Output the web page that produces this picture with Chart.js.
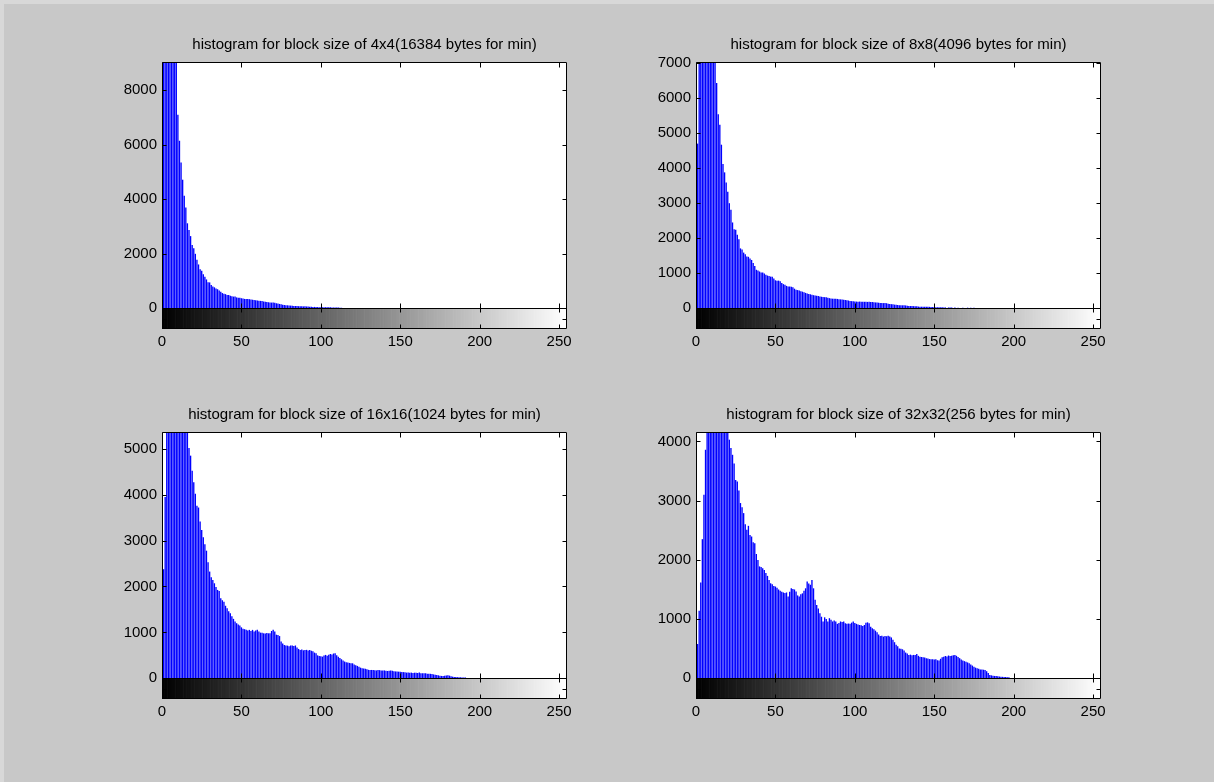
<!DOCTYPE html>
<html>
<head>
<meta charset="utf-8">
<script src="https://cdn.jsdelivr.net/npm/chart.js@4.4.1/dist/chart.umd.min.js"></script>
<style>
  html, body { margin: 0; padding: 0; background: #c8c8c8; }
  body { width: 1214px; height: 782px; position: relative; overflow: hidden; }
  .edge { position: absolute; left: 0; top: 0; width: 1214px; height: 782px; box-sizing: border-box;
          border-left: 4px solid #d8d8d8; border-top: 4px solid #d8d8d8; }
  .panel { position: absolute; width: 480px; height: 330px; }
</style>
</head>
<body>
<div class="edge"></div>
<div class="panel" style="left:100px; top:30px;"><canvas id="h4" width="480" height="330"></canvas></div>
<div class="panel" style="left:634px; top:30px;"><canvas id="h8" width="480" height="330"></canvas></div>
<div class="panel" style="left:100px; top:400px;"><canvas id="h16" width="480" height="330"></canvas></div>
<div class="panel" style="left:634px; top:400px;"><canvas id="h32" width="480" height="330"></canvas></div>
<script>
// pixel counts per gray level (0..n), bins past the end are empty
const bins4x4 = [
  9600, 16800, 15400, 14200, 13100, 12200, 11400, 10600, 9900, 9300,
  7100, 6150, 5350, 4720, 4130, 3700, 3120, 2870, 2650, 2320,
  2200, 2000, 1780, 1610, 1430, 1380, 1250, 1160, 1060, 960,
  950, 860, 800, 770, 730, 700, 650, 610, 560, 530,
  520, 490, 490, 465, 440, 430, 430, 400, 390, 385,
  370, 360, 345, 340, 340, 335, 325, 315, 305, 300,
  285, 280, 272, 265, 250, 245, 230, 222, 215, 210,
  210, 200, 185, 180, 160, 150, 135, 122, 115, 110,
  105, 100, 92, 86, 85, 82, 78, 75, 74, 70,
  75, 68, 62, 60, 55, 50, 52, 48, 45, 42,
  40, 40, 38, 40, 36, 35, 38, 33, 30, 32,
  28, 26, 25, 20
];

const bins8x8 = [
  5760, 4700, 7600, 8400, 8900, 9200, 9300, 9100, 8800, 8400,
  7900, 7500, 7200, 6430, 5540, 5240, 4670, 4120, 3880, 3590,
  3330, 3000, 2810, 2450, 2260, 2240, 2100, 1970, 1710, 1680,
  1590, 1540, 1480, 1470, 1420, 1380, 1290, 1210, 1100, 1080,
  1050, 1020, 1020, 990, 960, 935, 920, 905, 900, 850,
  800, 790, 790, 770, 720, 690, 670, 640, 625, 620,
  615, 600, 560, 530, 520, 510, 490, 475, 460, 440,
  425, 410, 400, 385, 375, 365, 360, 350, 340, 330,
  325, 318, 315, 300, 290, 282, 275, 272, 270, 268,
  262, 255, 250, 245, 240, 230, 222, 212, 205, 198,
  195, 192, 190, 192, 188, 190, 186, 185, 183, 185,
  180, 178, 170, 168, 165, 160, 152, 150, 148, 150,
  145, 128, 122, 118, 115, 105, 100, 95, 90, 88,
  85, 85, 82, 72, 68, 65, 64, 62, 60, 58,
  50, 48, 46, 48, 45, 44, 45, 42, 38, 35,
  34, 32, 30, 32, 28, 27, 25, 26, 0, 24,
  22, 25, 0, 20, 0, 18, 0, 0, 15, 0,
  0, 18, 0, 16, 0, 15
];

const bins16x16 = [
  1475, 2376, 3950, 5800, 6900, 7800, 8500, 8900, 9100, 9000,
  8700, 8200, 7600, 7000, 6400, 5900, 5500, 5015, 4850, 4520,
  4270, 4020, 3760, 3720, 3415, 3230, 3070, 2920, 2780, 2530,
  2325, 2200, 2140, 2070, 1990, 1925, 1900, 1745, 1700, 1665,
  1580, 1525, 1460, 1415, 1350, 1295, 1240, 1200, 1170, 1150,
  1110, 1080, 1070, 1060, 1040, 1055, 1030, 1055, 1020, 1040,
  1055, 1020, 995, 990, 980, 975, 985, 980, 980, 1030,
  1060, 1020, 950, 945, 920, 800, 760, 727, 715, 712,
  700, 715, 712, 705, 715, 670, 640, 618, 625, 610,
  618, 620, 605, 618, 600, 590, 560, 545, 500, 487,
  480, 472, 495, 510, 490, 515, 530, 520, 540, 545,
  500, 472, 440, 415, 390, 365, 350, 345, 335, 330,
  327, 300, 285, 270, 250, 232, 220, 215, 210, 195,
  185, 180, 182, 180, 175, 172, 180, 178, 170, 168,
  172, 167, 160, 165, 168, 162, 155, 150, 148, 145,
  145, 138, 135, 130, 124, 126, 120, 124, 118, 122,
  120, 115, 124, 112, 110, 108, 110, 102, 100, 98,
  95, 85, 78, 70, 65, 58, 52, 50, 55, 60,
  65, 58, 45, 36, 30, 28, 25, 22, 22, 20,
  20, 18
];

const bins32x32 = [
  380, 580, 1140, 1620, 2350, 3100, 3860, 4600, 5200, 5700,
  6000, 6200, 6300, 6250, 6100, 5900, 5600, 5300, 5000, 4700,
  4400, 4030, 3890, 3775, 3630, 3350, 3325, 3170, 2960, 2890,
  2790, 2600, 2510, 2575, 2420, 2395, 2300, 2280, 2100, 2000,
  1890, 1880, 1860, 1830, 1780, 1730, 1660, 1605, 1590, 1560,
  1550, 1530, 1500, 1480, 1460, 1450, 1440, 1450, 1380, 1460,
  1520, 1510, 1500, 1465, 1400, 1380, 1420, 1435, 1480, 1520,
  1635, 1600, 1580, 1660, 1520, 1325, 1240, 1180, 1100, 1040,
  960, 1030, 1000, 960, 1015, 990, 960, 975, 960, 920,
  935, 960, 950, 960, 930, 920, 925, 920, 940, 960,
  935, 920, 910, 900, 895, 885, 900, 940, 945, 930,
  870, 845, 830, 805, 780, 740, 715, 720, 705, 715,
  710, 720, 705, 690, 650, 610, 565, 540, 505, 500,
  490, 470, 435, 420, 395, 400, 390, 395, 395, 410,
  380, 365, 360, 355, 350, 340, 335, 325, 320, 322,
  318, 320, 305, 300, 330, 355, 365, 377, 370, 385,
  377, 380, 390, 395, 380, 360, 340, 318, 300, 290,
  280, 268, 255, 235, 215, 195, 180, 170, 160, 150,
  148, 145, 140, 120, 90, 56, 50, 45, 40, 40,
  35, 30, 28, 25, 24, 22, 20, 18
];

const titles = [
  'histogram for block size of 4x4(16384 bytes for min)',
  'histogram for block size of 8x8(4096 bytes for min)',
  'histogram for block size of 16x16(1024 bytes for min)',
  'histogram for block size of 32x32(256 bytes for min)'
];
const yLimits = [9040, 7030, 5365, 4160];
const xTicks = [0, 50, 100, 150, 200, 250];
const yTicks4x4 = [0, 2000, 4000, 6000, 8000];
const yTicks8x8 = [0, 1000, 2000, 3000, 4000, 5000, 6000, 7000];
const yTicks16x16 = [0, 1000, 2000, 3000, 4000, 5000];
const yTicks32x32 = [0, 1000, 2000, 3000, 4000];

// gray colormap strip under each histogram
const grayLevels = Array.from({ length: 256 }, (_, i) => i);
const CBAR_RATIO = 0.084;

Chart.defaults.font.family = '"Liberation Sans", Arial, sans-serif';
Chart.defaults.font.size = 15;
Chart.defaults.color = '#000';

// white axes background, then box, baseline and inward tick marks on top
const axesFrame = {
  id: 'axesFrame',
  beforeDatasetsDraw(chart) {
    const { ctx, chartArea: a } = chart;
    ctx.save();
    ctx.fillStyle = '#fff';
    ctx.fillRect(a.left, a.top, a.right - a.left, a.bottom - a.top);
    ctx.restore();
  },
  afterDatasetsDraw(chart) {
    const { ctx, chartArea: a, scales: { x, y } } = chart;
    const px = v => Math.round(v) + 0.5;
    const L = px(a.left), R = px(a.right) - 1, T = px(a.top), B = px(a.bottom) - 1;
    const Y0 = px(y.getPixelForValue(0));
    ctx.save();
    ctx.strokeStyle = '#000';
    ctx.lineWidth = 1;
    ctx.beginPath();
    ctx.rect(L, T, R - L, B - T);
    ctx.moveTo(L, Y0); ctx.lineTo(R, Y0);
    xTicks.forEach(v => {
      const X = px(x.getPixelForValue(v));
      ctx.moveTo(X, T); ctx.lineTo(X, T + 5);
      ctx.moveTo(X, Y0); ctx.lineTo(X, Y0 - 5);
      ctx.moveTo(X, Y0); ctx.lineTo(X, Y0 + 4);
      ctx.moveTo(X, B); ctx.lineTo(X, B - 4);
    });
    y.ticks.forEach(t => {
      const Y = px(y.getPixelForValue(t.value));
      ctx.moveTo(L, Y); ctx.lineTo(L + 4, Y);
      ctx.moveTo(R, Y); ctx.lineTo(R - 4, Y);
    });
    const Ym = px((Y0 + B) / 2);
    ctx.moveTo(L, Ym); ctx.lineTo(L + 4, Ym);
    ctx.moveTo(R, Ym); ctx.lineTo(R - 4, Ym);
    ctx.stroke();
    ctx.restore();
  }
};

function histogram(id, title, counts, yMax, yTicks) {
  const yMin = -yMax * CBAR_RATIO;
  new Chart(document.getElementById(id), {
    type: 'bar',
    data: {
      datasets: [
        {
          data: counts.map((c, i) => ({ x: i, y: c })),
          backgroundColor: '#0000ff',
          borderWidth: 0,
          grouped: false,
          categoryPercentage: 1,
          barPercentage: 0.85,
          base: 0,
          clip: 0
        },
        {
          data: grayLevels.map(g => ({ x: g, y: [yMin, 0] })),
          backgroundColor: grayLevels.map(g => `rgb(${g},${g},${g})`),
          borderWidth: 0,
          grouped: false,
          categoryPercentage: 1,
          barPercentage: 1,
          clip: 0
        }
      ]
    },
    options: {
      responsive: false,
      animation: false,
      events: [],
      layout: { padding: { left: 0, right: 13, top: 0, bottom: 0 } },
      plugins: {
        legend: { display: false },
        tooltip: { enabled: false },
        title: {
          display: true,
          text: title,
          fullSize: false,
          color: '#000',
          font: { size: 15, weight: 'normal' },
          padding: { top: 6, bottom: 8 }
        }
      },
      scales: {
        x: {
          type: 'linear',
          min: 0,
          max: 255,
          offset: false,
          grid: { display: false, drawTicks: false },
          border: { display: false },
          afterBuildTicks: s => { s.ticks = xTicks.map(v => ({ value: v })); },
          afterFit: s => { s.height = 31; },
          ticks: { padding: 4, maxRotation: 0, autoSkip: false, callback: v => String(v) }
        },
        y: {
          type: 'linear',
          min: yMin,
          max: yMax,
          grid: { display: false, drawTicks: false },
          border: { display: false },
          afterBuildTicks: s => { s.ticks = yTicks.map(v => ({ value: v })); },
          afterFit: s => { s.width = 62; },
          ticks: { padding: 5, autoSkip: false, callback: v => String(v) }
        }
      }
    },
    plugins: [axesFrame]
  });
}

histogram('h4', titles[0], bins4x4, yLimits[0], yTicks4x4);
histogram('h8', titles[1], bins8x8, yLimits[1], yTicks8x8);
histogram('h16', titles[2], bins16x16, yLimits[2], yTicks16x16);
histogram('h32', titles[3], bins32x32, yLimits[3], yTicks32x32);
</script>
</body>
</html>
